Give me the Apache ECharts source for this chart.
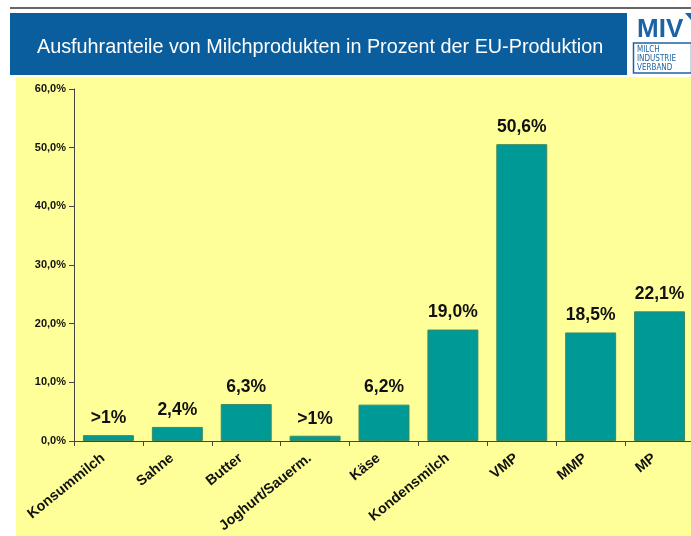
<!DOCTYPE html>
<html>
<head>
<meta charset="utf-8">
<script src="https://cdn.jsdelivr.net/npm/echarts@6/dist/echarts.min.js"></script>
<style>
html,body{margin:0;padding:0;background:#fff;}
#c{width:691px;height:536px;}
</style>
</head>
<body>
<div id="c"></div>
<script>
const categories = ['Konsummilch','Sahne','Butter','Joghurt/Sauerm.','Käse','Kondensmilch','VMP','MMP','MP'];
const values = [1.0, 2.4, 6.3, 0.9, 6.2, 19.0, 50.6, 18.5, 22.1];
const labelTexts = ['>1%','2,4%','6,3%','>1%','6,2%','19,0%','50,6%','18,5%','22,1%'];
const titleText = 'Ausfuhranteile von Milchprodukten in Prozent der EU-Produktion';

const chart = echarts.init(document.getElementById('c'));
chart.setOption({
  animation: false,
  title: {
    text: titleText,
    left: 32, top: 33,
    textStyle: {color:'#fff', fontSize: 19.8, fontWeight:'normal', fontFamily:'Liberation Sans, Arial, sans-serif'}
  },
  graphic: [
    {type:'line', shape:{x1:10,y1:8,x2:691,y2:8}, style:{stroke:'#333',lineWidth:1.5}, z:-10},
    {type:'rect', shape:{x:16,y:77,width:675,height:459}, style:{fill:'#FFFF99'}, z:-10},
    {type:'rect', shape:{x:10,y:13,width:617,height:62}, style:{fill:'#0A5E9E'}, z:-10},
    {type:'rect', shape:{x:631,y:13,width:60,height:62}, style:{fill:'#fff'}, z:-10},
    {type:'rect', shape:{x:633.5,y:43,width:58,height:30}, style:{fill:'#fff',stroke:'#1B63A5',lineWidth:1.5}, z:-9},
    {type:'text', x:637, y:17, style:{text:'MIV', fill:'#1B63A5', font:'bold 26px Liberation Sans, Arial, sans-serif'}, z:-8},
    {type:'text', x:637, y:45, style:{text:'MILCH\nINDUSTRIE\nVERBAND', fill:'#1B63A5', font:'8px DejaVu Sans Condensed, Liberation Sans Narrow, sans-serif', lineHeight:9}, z:-8},
    {type:'polygon', shape:{points:[[685,13],[691,13],[691,20]]}, style:{fill:'#1B63A5'}, z:-8}
  ],
  grid: {left:74, top:89, width:620, height:352, containLabel:false, outerBoundsMode:'none'},
  xAxis: {
    type:'category', data: categories,
    axisLine:{lineStyle:{color:'#444',width:1}},
    axisTick:{show:true, length:5, lineStyle:{color:'#444'}},
    axisLabel:{rotate:39, margin:11, padding:[0,7,0,0], interval:0, color:'#111', fontWeight:'bold', fontSize:14.3, fontFamily:'Liberation Sans, Arial, sans-serif'}
  },
  yAxis: {
    type:'value', min:0, max:60, interval:10,
    axisLine:{show:true, lineStyle:{color:'#444',width:1}},
    axisTick:{show:true, length:5, lineStyle:{color:'#444'}},
    splitLine:{show:false},
    axisLabel:{margin:8, color:'#111', fontWeight:'bold', fontSize:11, fontFamily:'Liberation Sans, Arial, sans-serif',
      formatter: v => v.toFixed(1).replace('.', ',') + '%'}
  },
  series: [{
    type:'bar', data: values, barWidth:'74%',
    itemStyle:{color:'#009A96', borderColor:'#3E8A60', borderWidth:1},
    label:{show:true, position:'top', distance:8, color:'#111', fontWeight:'bold', fontSize:17.5, fontFamily:'Liberation Sans, Arial, sans-serif',
      formatter: p => labelTexts[p.dataIndex]}
  }]
});
</script>
</body>
</html>
